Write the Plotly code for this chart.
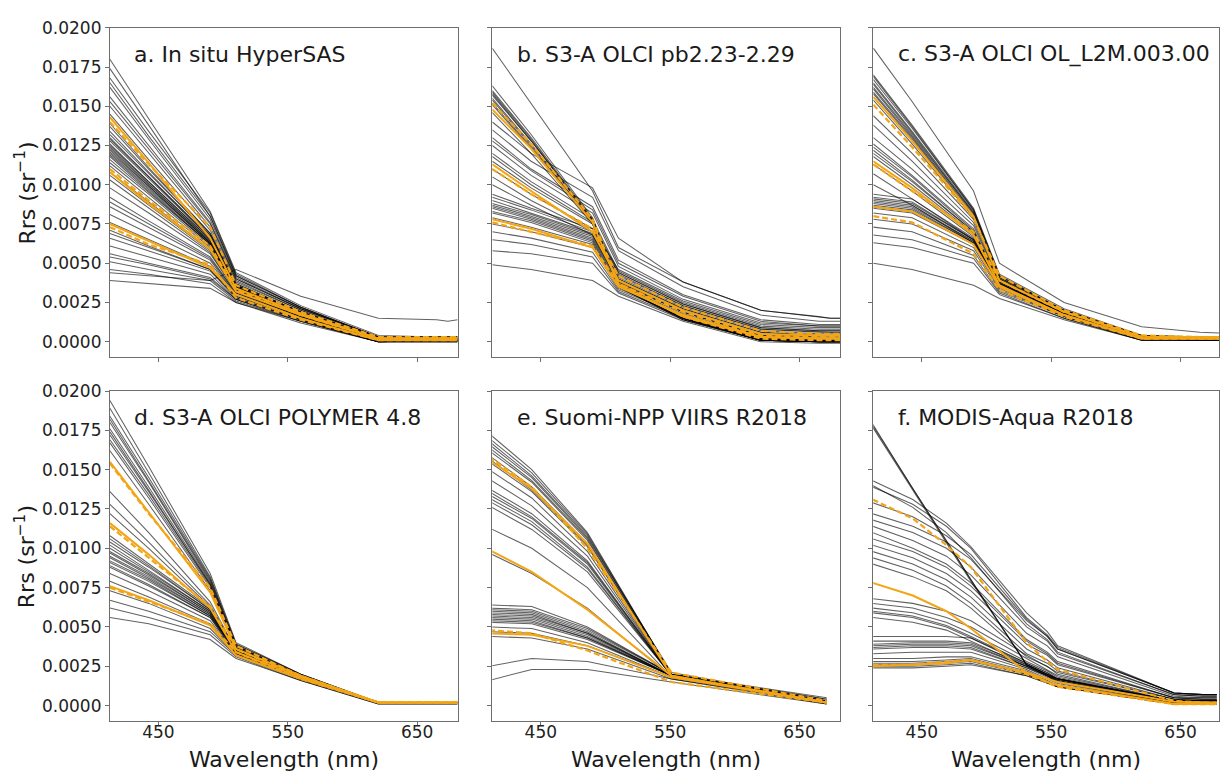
import plotly.graph_objects as go

# ---------------- data (Rrs values in units of 1e-3 sr^-1) ----------------
UNIT = 1e-3
WL_OLCI = [412.5, 442.5, 490, 510, 560, 620, 665, 673.75, 681.25]
WL_VIIRS = [410, 443, 486, 551, 671]
WL_MODIS = [412, 443, 469, 488, 531, 547, 555, 645, 667, 678]

PANEL_TITLES = [
    "a. In situ HyperSAS",
    "b. S3-A OLCI pb2.23-2.29",
    "c. S3-A OLCI OL_L2M.003.00",
    "d. S3-A OLCI POLYMER 4.8",
    "e. Suomi-NPP VIIRS R2018",
    "f. MODIS-Aqua R2018",
]

SPEC_A = [
    [18.0, 14.2, 8.3, 4.4, 2.3, 0.4, 0.3, 0.3, 0.3],
    [17.4, 13.8, 8.0, 4.2, 2.2, 0.3, 0.3, 0.3, 0.3],
    [16.8, 13.4, 8.2, 4.3, 2.2, 0.3, 0.3, 0.3, 0.3],
    [16.5, 13.1, 8.0, 4.2, 2.2, 0.3, 0.3, 0.3, 0.3],
    [16.2, 12.9, 7.8, 4.1, 2.1, 0.3, 0.2, 0.2, 0.2],
    [15.6, 12.5, 7.6, 4.0, 2.1, 0.3, 0.2, 0.2, 0.2],
    [15.3, 12.3, 7.5, 4.0, 2.1, 0.3, 0.2, 0.2, 0.2],
    [15.0, 12.0, 7.3, 3.9, 2.0, 0.2, 0.2, 0.2, 0.2],
    [14.5, 11.6, 7.1, 3.8, 2.0, 0.2, 0.2, 0.2, 0.2],
    [13.9, 11.1, 6.9, 3.7, 1.9, 0.2, 0.2, 0.2, 0.2],
    [13.7, 11.0, 6.9, 3.7, 1.9, 0.2, 0.2, 0.2, 0.2],
    [13.4, 10.8, 6.8, 3.6, 1.9, 0.2, 0.2, 0.2, 0.2],
    [13.2, 10.7, 6.8, 3.6, 1.9, 0.2, 0.2, 0.2, 0.2],
    [13.0, 10.5, 6.6, 3.6, 1.8, 0.2, 0.2, 0.2, 0.2],
    [12.9, 10.5, 6.7, 3.6, 1.9, 0.2, 0.2, 0.2, 0.2],
    [12.8, 10.4, 6.6, 3.6, 1.9, 0.2, 0.2, 0.2, 0.2],
    [12.6, 10.2, 6.5, 3.5, 1.8, 0.2, 0.1, 0.1, 0.1],
    [12.5, 10.2, 6.5, 3.5, 1.8, 0.2, 0.2, 0.2, 0.2],
    [12.4, 10.1, 6.4, 3.5, 1.8, 0.1, 0.1, 0.1, 0.1],
    [12.3, 10.0, 6.4, 3.5, 1.8, 0.1, 0.1, 0.1, 0.1],
    [12.2, 9.9, 6.3, 3.5, 1.8, 0.2, 0.2, 0.2, 0.2],
    [12.1, 9.9, 6.3, 3.4, 1.8, 0.1, 0.1, 0.1, 0.1],
    [12.0, 9.8, 6.3, 3.4, 1.7, 0.1, 0.1, 0.1, 0.1],
    [11.9, 9.7, 6.2, 3.4, 1.7, 0.1, 0.1, 0.1, 0.1],
    [11.8, 9.6, 6.2, 3.4, 1.7, 0.1, 0.1, 0.1, 0.1],
    [11.6, 9.5, 6.2, 3.4, 1.7, 0.1, 0.1, 0.1, 0.1],
    [11.4, 9.4, 6.1, 3.4, 1.7, 0.1, 0.1, 0.1, 0.1],
    [11.2, 9.2, 6.0, 3.3, 1.7, 0.1, 0.1, 0.1, 0.1],
    [10.8, 8.9, 5.9, 3.3, 1.6, 0.1, 0.1, 0.1, 0.1],
    [10.6, 8.7, 5.8, 3.3, 1.6, 0.1, 0.1, 0.1, 0.1],
    [10.3, 8.5, 5.7, 3.2, 1.6, 0.1, 0.1, 0.1, 0.1],
    [9.8, 8.2, 5.6, 3.2, 1.6, 0.1, 0.1, 0.1, 0.1],
    [9.2, 7.7, 5.4, 3.1, 1.6, 0.1, 0.1, 0.1, 0.1],
    [8.9, 7.5, 5.3, 3.1, 1.6, 0.1, 0.1, 0.1, 0.1],
    [8.6, 7.3, 5.2, 3.0, 1.5, 0.1, 0.1, 0.1, 0.1],
    [8.1, 6.9, 5.0, 3.0, 1.5, 0.1, 0.1, 0.1, 0.1],
    [7.6, 6.5, 4.8, 2.9, 1.5, 0.1, 0.1, 0.1, 0.1],
    [7.1, 6.1, 4.6, 2.8, 1.4, 0.0, 0.1, 0.1, 0.1],
    [6.9, 6.0, 4.6, 2.9, 1.5, 0.1, 0.1, 0.1, 0.1],
    [6.6, 5.8, 4.5, 2.8, 1.4, 0.0, 0.1, 0.1, 0.1],
    [6.1, 5.4, 4.3, 2.7, 1.4, 0.0, 0.1, 0.1, 0.1],
    [5.6, 5.0, 4.1, 2.7, 1.3, 0.0, 0.1, 0.1, 0.1],
    [5.4, 4.9, 4.0, 2.7, 1.4, 0.0, 0.0, 0.0, 0.0],
    [5.1, 4.6, 3.9, 2.6, 1.3, 0.0, 0.0, 0.0, 0.0],
    [4.6, 4.3, 3.7, 2.5, 1.3, 0.0, 0.0, 0.0, 0.0],
    [3.9, 3.7, 3.4, 2.5, 1.2, 0.0, 0.0, 0.0, 0.0],
    [4.4, 4.2, 3.9, 4.6, 2.9, 1.5, 1.4, 1.3, 1.4],
]
ORANGE_SOLID_A = [
    [14.3, 11.4, 6.6, 3.4, 1.8, 0.2, 0.2, 0.2, 0.2],
    [10.8, 8.8, 5.9, 3.2, 1.7, 0.2, 0.2, 0.2, 0.2],
    [7.5, 6.4, 4.7, 3.0, 1.5, 0.1, 0.1, 0.1, 0.1],
]
ORANGE_DASH_A = [
    [14.0, 11.3, 7.3, 3.6, 1.9, 0.3, 0.3, 0.3, 0.3],
    [11.0, 9.0, 6.1, 3.3, 1.7, 0.2, 0.2, 0.2, 0.2],
    [7.3, 6.2, 4.9, 2.8, 1.4, 0.1, 0.1, 0.1, 0.1],
]

SPEC_B = [
    [18.7, 15.2, 9.6, 6.0, 3.8, 2.0, 1.6, 1.5, 1.5],
    [16.3, 13.2, 7.9, 3.7, 1.6, 0.2, 0.1, 0.1, 0.1],
    [16.0, 13.0, 7.8, 3.6, 1.5, 0.2, 0.0, 0.0, 0.0],
    [15.9, 12.9, 7.7, 3.6, 1.5, 0.1, 0.0, 0.0, 0.0],
    [15.8, 12.8, 7.8, 3.6, 1.5, 0.1, 0.1, 0.1, 0.1],
    [15.7, 12.8, 7.7, 3.6, 1.5, 0.1, 0.0, 0.0, 0.0],
    [15.5, 12.6, 7.6, 3.5, 1.5, 0.1, 0.0, 0.0, 0.0],
    [15.4, 12.5, 7.6, 3.5, 1.5, 0.1, 0.0, 0.0, 0.0],
    [15.2, 12.4, 7.5, 3.5, 1.4, 0.1, 0.0, 0.0, 0.0],
    [15.1, 12.3, 7.6, 3.5, 1.4, 0.1, 0.0, 0.0, 0.0],
    [14.6, 12.0, 7.5, 3.6, 1.5, 0.2, 0.1, 0.1, 0.1],
    [14.0, 12.0, 9.8, 6.6, 3.8, 2.0, 1.6, 1.5, 1.5],
    [13.5, 11.5, 9.2, 5.8, 3.5, 1.7, 1.3, 1.3, 1.3],
    [13.0, 11.0, 8.6, 5.2, 3.0, 1.4, 1.1, 1.1, 1.1],
    [12.8, 10.9, 8.4, 5.0, 2.9, 1.3, 1.0, 1.0, 1.0],
    [12.5, 10.6, 8.2, 4.8, 2.7, 1.2, 1.0, 1.0, 1.0],
    [12.0, 10.2, 7.8, 4.5, 2.5, 1.0, 0.8, 0.8, 0.8],
    [11.8, 10.0, 7.6, 4.4, 2.4, 0.9, 0.7, 0.7, 0.7],
    [11.5, 9.8, 7.5, 4.3, 2.3, 0.8, 0.6, 0.6, 0.6],
    [11.0, 9.4, 7.2, 4.0, 2.1, 0.6, 0.4, 0.4, 0.4],
    [10.5, 9.0, 7.0, 3.9, 2.0, 0.5, 0.3, 0.3, 0.3],
    [10.0, 8.7, 6.8, 3.8, 1.9, 0.4, 0.2, 0.2, 0.2],
    [9.4, 8.5, 7.2, 4.6, 2.6, 1.1, 0.9, 0.9, 0.9],
    [9.2, 8.4, 7.0, 4.4, 2.4, 0.9, 0.7, 0.7, 0.7],
    [9.0, 8.2, 6.9, 4.2, 2.3, 0.8, 0.6, 0.6, 0.6],
    [8.8, 8.1, 6.8, 4.1, 2.2, 0.7, 0.5, 0.5, 0.5],
    [8.7, 8.0, 6.7, 4.0, 2.1, 0.6, 0.4, 0.4, 0.4],
    [8.6, 7.9, 6.6, 3.9, 2.0, 0.5, 0.3, 0.3, 0.3],
    [8.5, 7.8, 6.5, 3.8, 1.9, 0.4, 0.2, 0.2, 0.2],
    [8.3, 7.7, 6.4, 3.7, 1.9, 0.4, 0.2, 0.2, 0.2],
    [8.2, 7.6, 6.3, 3.6, 1.8, 0.3, 0.1, 0.1, 0.1],
    [7.9, 7.3, 6.2, 3.5, 1.7, 0.2, 0.1, 0.1, 0.1],
    [7.5, 7.0, 6.0, 3.4, 1.6, 0.2, 0.1, 0.1, 0.1],
    [7.0, 6.6, 5.7, 3.3, 1.6, 0.2, 0.1, 0.1, 0.1],
    [6.5, 6.2, 5.4, 3.2, 1.5, 0.1, 0.0, 0.0, 0.0],
    [5.8, 5.6, 5.0, 3.1, 1.4, 0.1, 0.0, 0.0, 0.0],
    [4.9, 4.6, 3.9, 2.9, 1.3, 0.0, -0.1, -0.1, -0.1],
]
ORANGE_SOLID_B = [
    [14.8, 12.3, 7.6, 3.6, 1.6, 0.3, 0.2, 0.2, 0.2],
    [11.3, 9.6, 7.0, 3.9, 2.0, 0.5, 0.4, 0.4, 0.4],
    [7.8, 7.2, 6.0, 3.5, 1.7, 0.3, 0.2, 0.2, 0.2],
]
ORANGE_DASH_B = [
    [15.2, 12.6, 7.8, 3.7, 1.6, 0.2, 0.1, 0.1, 0.1],
    [11.0, 9.4, 7.2, 4.2, 2.2, 0.7, 0.5, 0.5, 0.5],
    [7.6, 7.0, 6.1, 3.7, 1.9, 0.4, 0.3, 0.3, 0.3],
]

SPEC_C = [
    [18.7, 15.3, 9.6, 5.0, 2.5, 0.95, 0.6, 0.55, 0.55],
    [17.0, 13.8, 8.5, 4.3, 2.1, 0.4, 0.3, 0.3, 0.3],
    [16.9, 13.7, 8.4, 4.2, 2.0, 0.4, 0.3, 0.3, 0.3],
    [16.7, 13.6, 8.4, 4.2, 2.0, 0.4, 0.3, 0.3, 0.3],
    [16.5, 13.4, 8.3, 4.1, 2.0, 0.3, 0.2, 0.2, 0.2],
    [16.4, 13.3, 8.2, 4.1, 2.0, 0.3, 0.2, 0.2, 0.2],
    [16.2, 13.2, 8.2, 4.1, 2.0, 0.3, 0.2, 0.2, 0.2],
    [16.1, 13.1, 8.1, 4.0, 1.9, 0.3, 0.2, 0.2, 0.2],
    [15.9, 13.0, 8.0, 4.0, 1.9, 0.3, 0.2, 0.2, 0.2],
    [15.8, 12.9, 8.0, 4.0, 1.9, 0.3, 0.2, 0.2, 0.2],
    [15.4, 12.6, 7.9, 3.9, 1.9, 0.3, 0.2, 0.2, 0.2],
    [14.4, 12.0, 7.8, 3.9, 1.9, 0.3, 0.2, 0.2, 0.2],
    [13.8, 11.5, 7.6, 3.8, 1.8, 0.3, 0.2, 0.2, 0.2],
    [13.0, 11.0, 7.4, 3.8, 1.8, 0.3, 0.2, 0.2, 0.2],
    [12.6, 10.6, 7.2, 3.7, 1.8, 0.3, 0.2, 0.2, 0.2],
    [12.4, 10.5, 7.1, 3.7, 1.8, 0.3, 0.2, 0.2, 0.2],
    [12.2, 10.3, 7.0, 3.7, 1.8, 0.2, 0.2, 0.2, 0.2],
    [12.0, 10.2, 7.0, 3.7, 1.8, 0.2, 0.2, 0.2, 0.2],
    [11.8, 10.0, 6.9, 3.7, 1.7, 0.2, 0.2, 0.2, 0.2],
    [11.3, 9.6, 6.7, 3.6, 1.7, 0.2, 0.2, 0.2, 0.2],
    [10.7, 9.1, 6.5, 3.6, 1.7, 0.2, 0.1, 0.1, 0.1],
    [10.0, 8.7, 6.3, 3.5, 1.7, 0.2, 0.1, 0.1, 0.1],
    [9.4, 9.1, 6.6, 3.8, 1.8, 0.3, 0.2, 0.2, 0.2],
    [9.2, 8.9, 6.5, 3.7, 1.8, 0.3, 0.2, 0.2, 0.2],
    [9.1, 8.8, 6.5, 3.7, 1.8, 0.3, 0.2, 0.2, 0.2],
    [9.0, 8.7, 6.4, 3.6, 1.8, 0.3, 0.2, 0.2, 0.2],
    [8.9, 8.6, 6.4, 3.6, 1.7, 0.2, 0.2, 0.2, 0.2],
    [8.8, 8.5, 6.3, 3.6, 1.7, 0.2, 0.2, 0.2, 0.2],
    [8.7, 8.4, 6.3, 3.6, 1.7, 0.2, 0.2, 0.2, 0.2],
    [8.6, 8.3, 6.2, 3.5, 1.7, 0.2, 0.2, 0.2, 0.2],
    [8.5, 8.2, 6.2, 3.5, 1.7, 0.2, 0.1, 0.1, 0.1],
    [8.2, 7.9, 6.0, 3.4, 1.6, 0.2, 0.1, 0.1, 0.1],
    [7.8, 7.5, 5.8, 3.3, 1.6, 0.2, 0.1, 0.1, 0.1],
    [7.3, 7.0, 5.5, 3.2, 1.6, 0.1, 0.1, 0.1, 0.1],
    [6.8, 6.5, 5.3, 3.1, 1.5, 0.1, 0.1, 0.1, 0.1],
    [6.3, 6.0, 5.0, 3.0, 1.5, 0.1, 0.1, 0.1, 0.1],
    [5.0, 4.6, 3.6, 2.75, 1.4, 0.1, 0.1, 0.1, 0.1],
]
ORANGE_SOLID_C = [
    [15.6, 12.8, 8.0, 3.9, 1.9, 0.3, 0.2, 0.2, 0.2],
    [11.5, 9.8, 6.8, 3.6, 1.7, 0.2, 0.2, 0.2, 0.2],
    [8.6, 8.3, 6.2, 3.5, 1.7, 0.2, 0.2, 0.2, 0.2],
]
ORANGE_DASH_C = [
    [15.1, 12.4, 7.9, 4.2, 2.0, 0.4, 0.3, 0.3, 0.3],
    [11.3, 9.6, 7.0, 3.9, 1.9, 0.3, 0.3, 0.3, 0.3],
    [8.0, 7.6, 5.6, 3.3, 1.6, 0.2, 0.2, 0.2, 0.2],
]

SPEC_D = [
    [19.4, 15.2, 8.4, 4.0, 2.0, 0.2, 0.2, 0.2, 0.2],
    [18.9, 14.8, 8.2, 3.9, 2.0, 0.2, 0.2, 0.2, 0.2],
    [18.4, 14.5, 8.1, 3.9, 2.0, 0.2, 0.2, 0.2, 0.2],
    [18.2, 14.3, 8.0, 3.8, 1.9, 0.2, 0.2, 0.2, 0.2],
    [18.0, 14.2, 7.9, 3.8, 1.9, 0.2, 0.2, 0.2, 0.2],
    [17.6, 13.9, 7.8, 3.8, 1.9, 0.2, 0.2, 0.2, 0.2],
    [17.4, 13.7, 7.7, 3.7, 1.9, 0.2, 0.2, 0.2, 0.2],
    [17.2, 13.6, 7.7, 3.7, 1.9, 0.2, 0.2, 0.2, 0.2],
    [16.9, 13.4, 7.6, 3.7, 1.9, 0.2, 0.2, 0.2, 0.2],
    [16.7, 13.2, 7.5, 3.7, 1.9, 0.2, 0.2, 0.2, 0.2],
    [16.2, 12.8, 7.3, 3.6, 1.9, 0.2, 0.2, 0.2, 0.2],
    [13.6, 11.0, 6.6, 3.5, 1.8, 0.2, 0.2, 0.2, 0.2],
    [12.8, 10.4, 6.4, 3.5, 1.8, 0.2, 0.2, 0.2, 0.2],
    [12.2, 10.0, 6.3, 3.4, 1.8, 0.2, 0.2, 0.2, 0.2],
    [10.8, 9.0, 6.2, 3.5, 1.8, 0.2, 0.2, 0.2, 0.2],
    [10.6, 8.9, 6.1, 3.5, 1.8, 0.2, 0.2, 0.2, 0.2],
    [10.4, 8.8, 6.1, 3.5, 1.8, 0.2, 0.2, 0.2, 0.2],
    [10.2, 8.6, 6.0, 3.4, 1.8, 0.2, 0.2, 0.2, 0.2],
    [10.0, 8.5, 6.0, 3.4, 1.8, 0.2, 0.2, 0.2, 0.2],
    [9.8, 8.4, 5.9, 3.4, 1.8, 0.2, 0.2, 0.2, 0.2],
    [9.7, 8.3, 5.9, 3.4, 1.8, 0.2, 0.2, 0.2, 0.2],
    [9.5, 8.2, 5.8, 3.4, 1.7, 0.2, 0.2, 0.2, 0.2],
    [9.4, 8.1, 5.8, 3.4, 1.7, 0.2, 0.2, 0.2, 0.2],
    [9.2, 8.0, 5.7, 3.4, 1.7, 0.2, 0.2, 0.2, 0.2],
    [9.1, 7.9, 5.7, 3.4, 1.7, 0.2, 0.2, 0.2, 0.2],
    [8.9, 7.7, 5.6, 3.3, 1.7, 0.2, 0.2, 0.2, 0.2],
    [8.8, 7.6, 5.6, 3.3, 1.7, 0.2, 0.2, 0.2, 0.2],
    [8.4, 7.3, 5.4, 3.3, 1.7, 0.2, 0.2, 0.2, 0.2],
    [7.9, 6.9, 5.2, 3.3, 1.7, 0.2, 0.2, 0.2, 0.2],
    [7.3, 6.5, 4.9, 3.2, 1.7, 0.2, 0.2, 0.2, 0.2],
    [6.7, 6.0, 4.7, 3.2, 1.7, 0.2, 0.2, 0.2, 0.2],
    [6.2, 5.6, 4.5, 3.1, 1.6, 0.1, 0.1, 0.1, 0.1],
    [5.6, 5.2, 4.2, 3.0, 1.6, 0.1, 0.1, 0.1, 0.1],
]
ORANGE_SOLID_D = [
    [15.5, 12.3, 7.2, 3.6, 1.9, 0.2, 0.2, 0.2, 0.2],
    [11.6, 9.6, 6.2, 3.4, 1.8, 0.2, 0.2, 0.2, 0.2],
    [7.6, 6.7, 5.1, 3.2, 1.7, 0.2, 0.2, 0.2, 0.2],
]
ORANGE_DASH_D = [
    [15.4, 12.2, 7.5, 3.8, 1.9, 0.2, 0.2, 0.2, 0.2],
    [11.4, 9.4, 6.3, 3.6, 1.8, 0.2, 0.2, 0.2, 0.2],
    [7.5, 6.6, 5.2, 3.4, 1.7, 0.2, 0.2, 0.2, 0.2],
]

SPEC_E = [
    [17.3, 15.0, 11.0, 2.0, 0.3],
    [17.0, 14.8, 10.9, 2.0, 0.2],
    [16.8, 14.6, 10.8, 2.0, 0.3],
    [16.6, 14.5, 10.7, 2.1, 0.3],
    [16.4, 14.3, 10.6, 2.0, 0.2],
    [16.2, 14.2, 10.5, 2.0, 0.2],
    [15.9, 13.9, 10.3, 1.9, 0.2],
    [15.7, 13.7, 10.2, 1.9, 0.2],
    [15.5, 13.6, 10.1, 1.9, 0.2],
    [15.0, 13.2, 9.8, 1.9, 0.2],
    [14.4, 12.7, 9.5, 1.9, 0.2],
    [13.8, 12.2, 9.2, 1.9, 0.2],
    [13.6, 12.0, 9.1, 1.9, 0.2],
    [13.4, 11.9, 9.0, 1.9, 0.2],
    [13.2, 11.7, 8.8, 1.9, 0.2],
    [13.0, 11.5, 8.7, 1.9, 0.2],
    [12.7, 11.2, 8.5, 1.9, 0.2],
    [11.3, 10.0, 7.5, 1.8, 0.2],
    [9.7, 8.4, 6.2, 1.8, 0.2],
    [6.4, 6.3, 5.0, 2.0, 0.5],
    [6.2, 6.1, 4.9, 2.0, 0.4],
    [6.1, 6.0, 4.8, 2.0, 0.4],
    [6.0, 5.9, 4.7, 1.9, 0.3],
    [5.9, 5.8, 4.6, 1.9, 0.3],
    [5.8, 5.7, 4.6, 1.9, 0.3],
    [5.7, 5.6, 4.5, 1.9, 0.3],
    [5.6, 5.5, 4.4, 1.9, 0.2],
    [5.5, 5.4, 4.3, 1.9, 0.2],
    [5.4, 5.3, 4.3, 1.9, 0.2],
    [5.3, 5.2, 4.2, 1.9, 0.2],
    [5.0, 4.9, 4.0, 1.8, 0.2],
    [4.7, 4.6, 3.8, 1.8, 0.2],
    [4.4, 4.3, 3.6, 1.7, 0.1],
    [2.5, 3.0, 2.8, 1.7, 0.2],
    [1.6, 2.3, 2.3, 1.5, 0.1],
]
ORANGE_SOLID_E = [
    [15.6, 13.8, 10.3, 1.9, 0.2],
    [9.9, 8.5, 6.1, 1.9, 0.2],
    [4.6, 4.5, 3.8, 1.8, 0.2],
]
ORANGE_DASH_E = [
    [15.8, 13.9, 10.0, 2.1, 0.3],
    [4.8, 4.6, 3.5, 1.5, 0.2],
]

SPEC_F = [
    [17.9, 13.8, 10.5, 8.0, 2.6, 2.0, 1.7, 0.3, 0.3, 0.3],
    [17.8, 13.8, 10.5, 8.0, 2.6, 2.0, 1.7, 0.3, 0.3, 0.3],
    [17.7, 13.7, 10.4, 7.9, 2.6, 1.9, 1.7, 0.3, 0.3, 0.3],
    [14.3, 13.1, 11.6, 10.1, 5.9, 4.7, 3.8, 0.8, 0.7, 0.7],
    [13.9, 12.8, 11.4, 10.0, 5.6, 4.5, 3.7, 0.8, 0.7, 0.7],
    [14.0, 12.6, 11.0, 9.4, 5.2, 4.2, 3.4, 0.7, 0.6, 0.6],
    [12.9, 12.0, 10.8, 9.6, 5.5, 4.4, 3.6, 0.8, 0.7, 0.7],
    [12.2, 11.4, 10.4, 9.3, 5.4, 4.4, 3.6, 0.8, 0.7, 0.7],
    [11.8, 11.0, 10.0, 8.8, 5.0, 4.1, 3.3, 0.7, 0.6, 0.6],
    [11.4, 10.5, 9.5, 8.3, 4.6, 3.8, 3.1, 0.6, 0.5, 0.5],
    [11.0, 10.0, 9.0, 7.8, 4.2, 3.4, 2.8, 0.5, 0.5, 0.5],
    [10.6, 9.8, 8.8, 7.6, 4.1, 3.3, 2.7, 0.5, 0.4, 0.4],
    [10.2, 9.4, 8.4, 7.3, 3.9, 3.2, 2.6, 0.5, 0.4, 0.4],
    [9.8, 9.0, 8.0, 6.9, 3.6, 2.9, 2.4, 0.4, 0.4, 0.4],
    [9.4, 8.6, 7.6, 6.5, 3.3, 2.7, 2.2, 0.4, 0.3, 0.3],
    [9.0, 8.2, 7.3, 6.2, 3.1, 2.5, 2.0, 0.3, 0.3, 0.3],
    [6.8, 6.5, 6.0, 5.4, 3.2, 2.5, 2.1, 0.4, 0.3, 0.3],
    [6.5, 6.2, 5.6, 5.0, 3.0, 2.3, 1.9, 0.3, 0.3, 0.3],
    [6.2, 5.9, 5.3, 4.6, 2.8, 2.2, 1.8, 0.3, 0.3, 0.3],
    [6.0, 5.7, 5.1, 4.4, 2.7, 2.1, 1.7, 0.3, 0.3, 0.3],
    [5.9, 5.6, 5.0, 4.3, 2.6, 2.0, 1.7, 0.3, 0.3, 0.3],
    [5.6, 5.3, 4.8, 4.1, 2.5, 1.9, 1.6, 0.2, 0.2, 0.2],
    [4.4, 4.4, 4.4, 4.3, 2.7, 2.1, 1.7, 0.3, 0.3, 0.3],
    [4.1, 4.1, 4.1, 4.0, 2.6, 2.0, 1.6, 0.3, 0.3, 0.3],
    [3.9, 4.0, 4.0, 3.9, 2.5, 1.9, 1.6, 0.2, 0.2, 0.2],
    [3.8, 3.9, 3.9, 3.8, 2.5, 1.9, 1.5, 0.2, 0.2, 0.2],
    [3.7, 3.8, 3.8, 3.7, 2.4, 1.9, 1.5, 0.2, 0.2, 0.2],
    [3.6, 3.7, 3.7, 3.6, 2.4, 1.8, 1.5, 0.2, 0.2, 0.2],
    [3.3, 3.4, 3.4, 3.4, 2.3, 1.7, 1.4, 0.2, 0.2, 0.2],
    [3.0, 3.0, 3.1, 3.1, 2.2, 1.6, 1.3, 0.2, 0.2, 0.2],
    [2.8, 2.8, 2.9, 3.0, 2.1, 1.5, 1.3, 0.1, 0.1, 0.1],
    [2.7, 2.7, 2.8, 2.9, 2.0, 1.5, 1.2, 0.1, 0.1, 0.1],
    [2.6, 2.6, 2.7, 2.8, 2.0, 1.5, 1.2, 0.1, 0.1, 0.1],
    [2.5, 2.5, 2.6, 2.7, 1.9, 1.4, 1.2, 0.1, 0.1, 0.1],
    [2.4, 2.4, 2.5, 2.6, 1.9, 1.4, 1.2, 0.1, 0.1, 0.1],
]
ORANGE_SOLID_F = [
    [7.8, 7.0, 6.0, 4.9, 2.1, 1.7, 1.5, 0.25, 0.2, 0.2],
    [2.5, 2.6, 2.7, 2.9, 2.1, 1.5, 1.3, 0.1, 0.1, 0.1],
]
ORANGE_DASH_F = [
    [13.1, 11.9, 10.2, 8.8, 4.0, 2.8, 2.3, 0.3, 0.2, 0.2],
    [2.6, 2.6, 2.8, 2.9, 2.0, 1.5, 1.2, 0.1, 0.1, 0.1],
]

Y_TICKS = [0.0, 0.0025, 0.005, 0.0075, 0.01, 0.0125, 0.015, 0.0175, 0.02]
Y_TICK_LABELS = ["0.0000", "0.0025", "0.0050", "0.0075", "0.0100",
                 "0.0125", "0.0150", "0.0175", "0.0200"]
X_TICKS = [450, 550, 650]
X_TITLE = "Wavelength (nm)"
Y_TITLE = "Rrs (sr<sup>−1</sup>)"

PANELS = [
    (WL_OLCI, SPEC_A, ORANGE_SOLID_A, ORANGE_DASH_A),
    (WL_OLCI, SPEC_B, ORANGE_SOLID_B, ORANGE_DASH_B),
    (WL_OLCI, SPEC_C, ORANGE_SOLID_C, ORANGE_DASH_C),
    (WL_OLCI, SPEC_D, ORANGE_SOLID_D, ORANGE_DASH_D),
    (WL_VIIRS, SPEC_E, ORANGE_SOLID_E, ORANGE_DASH_E),
    (WL_MODIS, SPEC_F, ORANGE_SOLID_F, ORANGE_DASH_F),
]

# ---------------- layout geometry ----------------
W, H = 1220, 772
COL_PX = [(110, 458), (492.7, 840.7), (874, 1220)]
ROW_PX = [(18, 352), (386, 720.7)]
PX_PER_NM = 348 / (681.25 - 412.5)
X_MIN = 412.5
Y_RANGE = [-0.001, 0.020]

FONT = "DejaVu Sans"
BLACK_LINE = "rgba(0,0,0,0.62)"
ORANGE = "#f2a516"
AXIS_COLOR = "#6e6e6e"

fig = go.Figure()

for i, (wl, spec, osolid, odash) in enumerate(PANELS):
    idx = "" if i == 0 else str(i + 1)
    xa, ya = "x" + idx, "y" + idx
    for s in spec:
        fig.add_trace(go.Scatter(x=wl, y=[v * UNIT for v in s], mode="lines",
                                 line=dict(color=BLACK_LINE, width=1.05),
                                 xaxis=xa, yaxis=ya, showlegend=False,
                                 hoverinfo="skip"))
    for s in osolid:
        fig.add_trace(go.Scatter(x=wl, y=[v * UNIT for v in s], mode="lines",
                                 line=dict(color=ORANGE, width=2.0),
                                 xaxis=xa, yaxis=ya, showlegend=False,
                                 hoverinfo="skip"))
    for s in odash:
        fig.add_trace(go.Scatter(x=wl, y=[v * UNIT for v in s], mode="lines",
                                 line=dict(color=ORANGE, width=2.2, dash="6px,3px"),
                                 xaxis=xa, yaxis=ya, showlegend=False,
                                 hoverinfo="skip"))

layout = dict(
    width=W, height=H,
    margin=dict(l=0, r=0, t=0, b=0),
    paper_bgcolor="white", plot_bgcolor="white",
    font=dict(family=FONT, color="#222222"),
    showlegend=False,
)

annotations = []
for i in range(6):
    r, c = divmod(i, 3)
    idx = "" if i == 0 else str(i + 1)
    x0, x1 = COL_PX[c]
    y0, y1 = ROW_PX[r]
    x_max = X_MIN + (x1 - x0) / PX_PER_NM
    common = dict(showline=True, linecolor=AXIS_COLOR, linewidth=1, mirror=True,
                  ticks="outside", ticklen=4, tickwidth=1, tickcolor=AXIS_COLOR,
                  showgrid=False, zeroline=False,
                  tickfont=dict(family=FONT, size=17, color="#222222"))
    layout["xaxis" + idx] = dict(
        domain=[x0 / W, x1 / W], range=[X_MIN, x_max],
        tickvals=X_TICKS, ticktext=[str(t) for t in X_TICKS],
        showticklabels=(r == 1), ticklabelstandoff=-9,
        anchor="y" + idx, **common)
    layout["yaxis" + idx] = dict(
        domain=[1 - y1 / H, 1 - y0 / H], range=Y_RANGE,
        tickvals=Y_TICKS, ticktext=Y_TICK_LABELS,
        showticklabels=(c == 0), anchor="x" + idx, **common)
    annotations.append(dict(
        text=PANEL_TITLES[i], xref="x" + idx + " domain", yref="y" + idx + " domain",
        x=22.5 / 348, y=1 - 27 / 334.5, xanchor="left", yanchor="middle",
        showarrow=False, font=dict(family=FONT, size=22, color="#1a1a1a")))
    if r == 1:
        annotations.append(dict(
            text=X_TITLE, xref="paper", yref="paper",
            x=((x0 + min(x1, 1222)) / 2) / W, y=1 - 759 / H,
            xanchor="center", yanchor="middle", showarrow=False,
            font=dict(family=FONT, size=22, color="#1a1a1a")))
    if c == 0:
        annotations.append(dict(
            text=Y_TITLE, xref="paper", yref="paper",
            x=25 / W, y=1 - ((y0 + y1) / 2) / H,
            xanchor="center", yanchor="middle", textangle=-90, showarrow=False,
            font=dict(family=FONT, size=22, color="#1a1a1a")))

layout["annotations"] = annotations
fig.update_layout(**layout)
fig.write_html("out.html")
